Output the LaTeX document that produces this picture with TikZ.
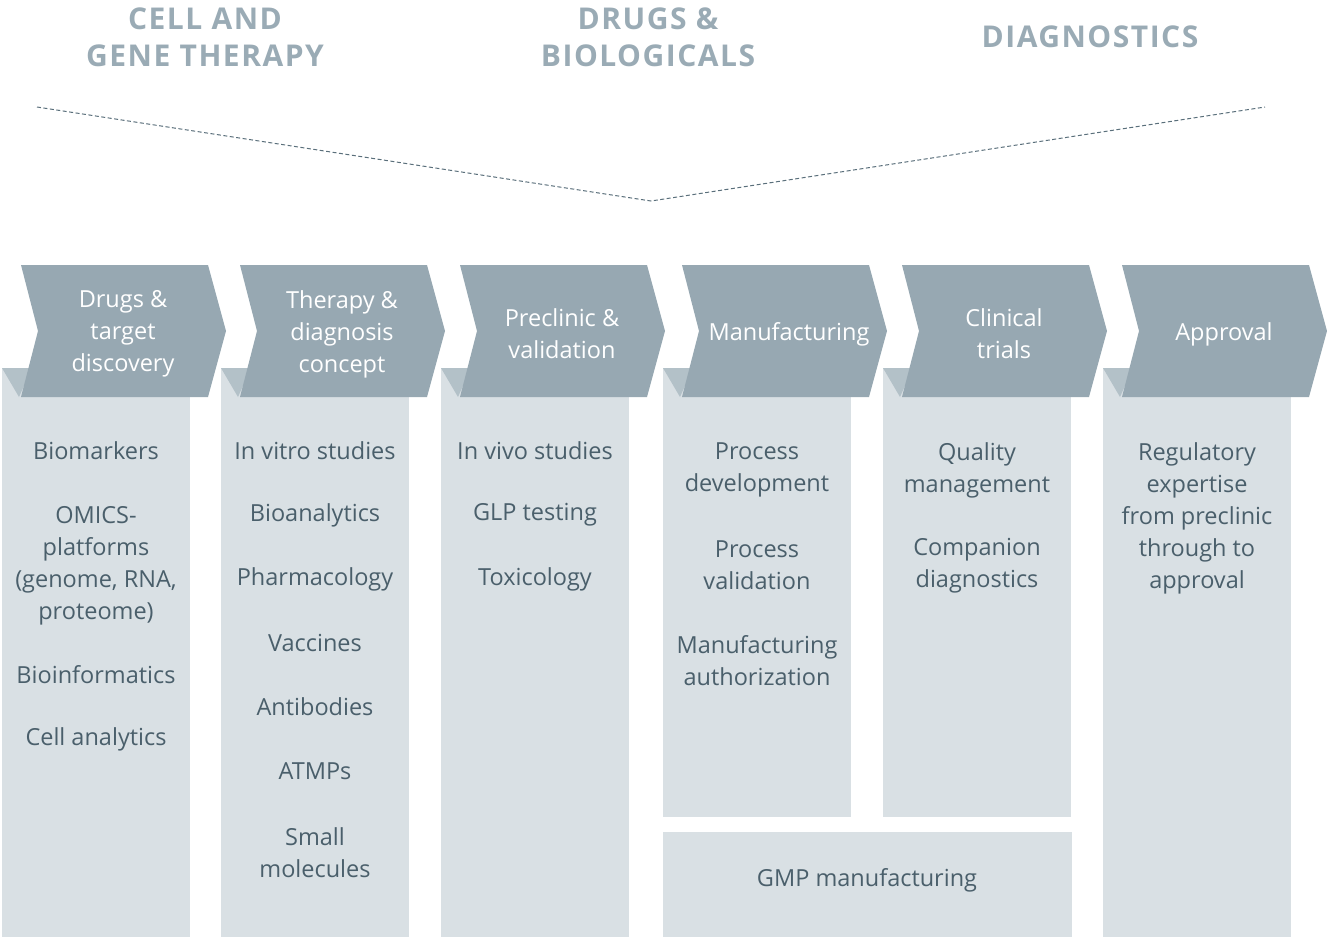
\documentclass[tikz,border=0pt]{standalone}
\usepackage{fontspec}
\setmainfont{Open Sans}
\newfontfamily\headfont[LetterSpace=5]{Open Sans}
\usetikzlibrary{positioning}
\definecolor{chevfill}{HTML}{97A8B2}
\definecolor{foldfill}{HTML}{B3C1C8}
\definecolor{colfill}{HTML}{D9E0E4}
\definecolor{itemtext}{HTML}{4A5F6B}
\definecolor{headtext}{HTML}{9AABB5}
\definecolor{guideline}{HTML}{5A6F7B}

\begin{document}
\begin{tikzpicture}[x=1pt, y=-1pt,
      col/.style={fill=colfill, draw=none, anchor=north west, minimum width=188pt, inner sep=0pt},
      chev/.style={fill=chevfill, draw=none},
      fold/.style={fill=foldfill, draw=none},
      phase/.style={text=white, align=center, font=\fontsize{23.5}{32}\selectfont},
      item/.style={text=itemtext, align=center, font=\fontsize{23.5}{32}\selectfont},
      head/.style={text=headtext, align=center, font=\headfont\bfseries\fontsize{30}{37}\selectfont},
      guide/.style={guideline, line width=1pt, dash pattern=on 4pt off 2.5pt}
    ]
    \useasboundingbox (0,0) rectangle (1327,937);

    % the three fields on top
    \node[head] (cgt)  at (205,37)  {CELL AND\\GENE THERAPY};
    \node[head] (dab)  at (648,37)  {DRUGS \&\\BIOLOGICALS};
    \node[head] (diag) at (1090,37) {DIAGNOSTICS};

    % dashed funnel into the pipeline
    \coordinate (vl) at (37,107);
    \coordinate (vm) at (651,201);
    \coordinate (vr) at (1265,107);
    \draw[guide] (vl) -- (vm) -- (vr);

    % column panels
    \node[col, minimum height=569pt] (col1) at (2,368)    {};
    \node[col, minimum height=569pt] (col2) at (221,368)  {};
    \node[col, minimum height=569pt] (col3) at (441,368)  {};
    \node[col, minimum height=449pt] (col4) at (663,368)  {};
    \node[col, minimum height=449pt] (col5) at (883,368)  {};
    \node[col, minimum height=569pt] (col6) at (1103,368) {};
    \node[col, minimum width=409pt, minimum height=105pt] (gmpbox) at (663,832) {};

    % chevrons with the folded corner underneath
    \foreach \x/\dx/\lbl [count=\i] in {2/0/{Drugs \&\\target\\discovery},
        221/0/{Therapy \&\\diagnosis\\concept}, 441/0/{Preclinic \&\\validation},
        663/5/{Manufacturing}, 883/0/{Clinical\\trials}, 1103/0/{Approval}} {
      \fill[fold] (\x,368) -- ++(30,0) -- ++(-13,29) -- cycle;
      \fill[chev] (\x+19,265) -- (\x+206,265) -- (\x+224,331) -- (\x+206,397)
                  -- (\x+19,397) -- (\x+36,331) -- cycle;
      \node[phase] (phase\i) at (\x+121+\dx,334) {\lbl};
    }

    % column 1
    \node[item] (biomark)  at (96,451) {Biomarkers};
    \node[item] (omics)    at (96,566) {OMICS-\\platforms\\(genome, RNA,\\proteome)};
    \node[item] (bioinf)   at (96,675) {Bioinformatics};
    \node[item] (cellana)  at (96,739) {Cell analytics};

    % column 2
    \node[item] (invitro)  at (315,451) {In vitro studies};
    \node[item] (bioana)   at (315,515) {Bioanalytics};
    \node[item] (pharma)   at (315,579) {Pharmacology};
    \node[item] (vacc)     at (315,643) {Vaccines};
    \node[item] (antib)    at (315,707) {Antibodies};
    \node[item] (atmp)     at (315,771) {ATMPs};
    \node[item] (smallmol) at (315,853) {Small\\molecules};

    % column 3
    \node[item] (invivo)   at (535,451) {In vivo studies};
    \node[item] (glp)      at (535,515) {GLP testing};
    \node[item] (tox)      at (535,579) {Toxicology};

    % column 4
    \node[item] (procdev)  at (757,470) {Process\\development};
    \node[item] (procval)  at (757,565) {Process\\validation};
    \node[item] (manauth)  at (757,661) {Manufacturing\\authorization};

    % column 5
    \node[item] (qualman)  at (977,470) {Quality\\management};
    \node[item] (compdiag) at (977,566) {Companion\\diagnostics};

    % column 6
    \node[item] (regexp)   at (1197,518) {Regulatory\\expertise\\from preclinic\\through to\\approval};

    \node[item] (gmp)      at (867,880) {GMP manufacturing};
  \end{tikzpicture}
\end{document}
